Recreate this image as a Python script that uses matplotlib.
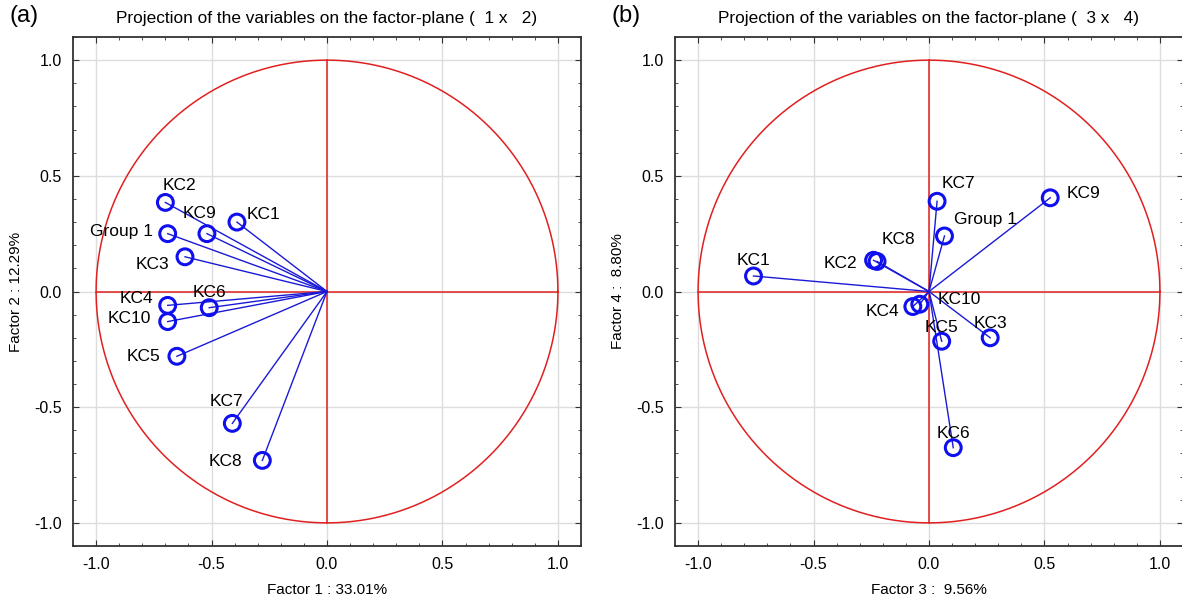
import numpy as np
import matplotlib.pyplot as plt
from matplotlib.ticker import MultipleLocator

plt.rcParams['font.family'] = ['Liberation Sans', 'DejaVu Sans']

# variable names
names = ['KC1', 'KC2', 'KC3', 'KC4', 'KC5', 'KC6', 'KC7', 'KC8', 'KC9', 'KC10', 'Group 1']

# loadings, factor plane 1 x 2
f1 = [-0.39, -0.70, -0.615, -0.69, -0.65, -0.51, -0.41, -0.28, -0.52, -0.69, -0.69]
f2 = [0.30, 0.385, 0.15, -0.06, -0.28, -0.07, -0.57, -0.73, 0.25, -0.13, 0.25]

# loadings, factor plane 3 x 4
f3 = [-0.76, -0.24, 0.265, -0.07, 0.055, 0.105, 0.035, -0.225, 0.525, -0.04, 0.067]
f4 = [0.067, 0.135, -0.20, -0.065, -0.215, -0.675, 0.39, 0.13, 0.405, -0.055, 0.24]

# label offsets in pixels
off_a = [(27, 8), (14, 17), (-33, -8), (-31, 7), (-33, 0), (0, 15),
         (-6, 22), (-37, -1), (-7, 20), (-38, 3), (-46, 2)]
off_b = [(0, 15), (-33, -3), (0, 14), (-30, -5), (0, 14), (0, 14),
         (21, 18), (21, 22), (33, 4), (40, 5), (41, 16)]

fig = plt.figure(figsize=(11.82, 6.06), dpi=100)
ax1 = fig.add_axes([73 / 1182, 60 / 606, 508 / 1182, 509 / 606])
ax2 = fig.add_axes([675 / 1182, 60 / 606, 508 / 1182, 509 / 606])


def draw(ax, xs, ys, offs, title, xlabel, ylabel, letter):
    t = np.linspace(0, 2 * np.pi, 400)
    ax.plot(np.cos(t), np.sin(t), color='#e02020', lw=1.1, zorder=2)
    ax.plot([-1, 1], [0, 0], color='#e02020', lw=1.1, zorder=2)
    ax.plot([0, 0], [-1, 1], color='#e02020', lw=1.1, zorder=2)
    for x, y, n, o in zip(xs, ys, names, offs):
        ax.plot([0, x], [0, y], color='#1a1ad6', lw=1.0, zorder=3)
        ax.annotate(n, (x, y), xytext=o, textcoords='offset pixels',
                    ha='center', va='center', fontsize=12.5, zorder=5)
    ax.scatter(xs, ys, s=130, facecolors='none', edgecolors='#1010ee',
               linewidths=2.2, zorder=4)
    ax.set_xlim(-1.1, 1.1)
    ax.set_ylim(-1.1, 1.1)
    ax.xaxis.set_major_locator(MultipleLocator(0.5))
    ax.yaxis.set_major_locator(MultipleLocator(0.5))
    ax.xaxis.set_minor_locator(MultipleLocator(0.1))
    ax.yaxis.set_minor_locator(MultipleLocator(0.1))
    ax.xaxis.set_major_formatter(lambda v, p: f'{v:.1f}')
    ax.yaxis.set_major_formatter(lambda v, p: f'{v:.1f}')
    ax.grid(True, which='major', color='#dddddd', lw=1.0, zorder=0)
    ax.set_axisbelow(True)
    ax.tick_params(which='both', direction='in', top=True, right=True,
                   labelsize=11.5, color='#333333')
    ax.tick_params(which='major', length=4, pad=8)
    ax.tick_params(which='minor', length=2.5)
    for s in ax.spines.values():
        s.set_linewidth(1.3)
        s.set_color('#333333')
    ax.set_title(title, fontsize=12.4, pad=10)
    ax.set_xlabel(xlabel, fontsize=11, labelpad=8)
    ax.set_ylabel(ylabel, fontsize=11, labelpad=8)
    ax.text(-0.125, 1.02, letter, transform=ax.transAxes, fontsize=17,
            ha='left', va='bottom')


draw(ax1, f1, f2, off_a, 'Projection of the variables on the factor-plane (  1 x   2)',
     'Factor 1 : 33.01%', 'Factor 2 : 12.29%', '(a)')
draw(ax2, f3, f4, off_b, 'Projection of the variables on the factor-plane (  3 x   4)',
     'Factor 3 :  9.56%', 'Factor 4 :  8.80%', '(b)')

fig.savefig('out.png', dpi=100)
